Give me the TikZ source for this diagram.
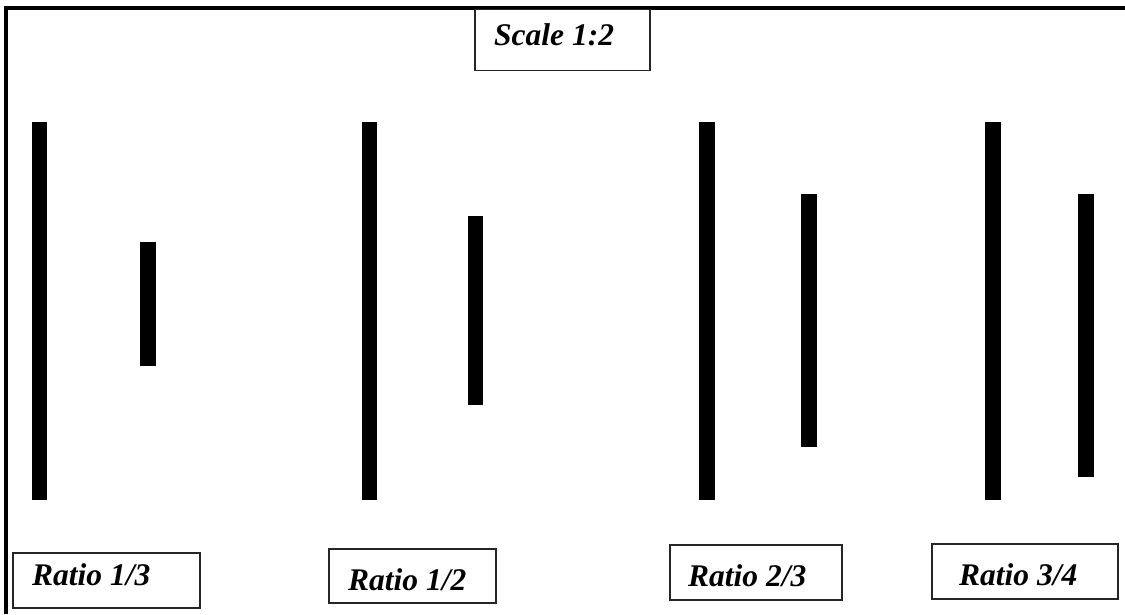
\documentclass[tikz,border=0pt]{standalone}
\usepackage{fontspec}
\setmainfont{Liberation Serif}
\begin{document}
\begin{tikzpicture}[x=1pt,y=-1pt,
  bar/.style={fill=black,draw=none},
  lbox/.style={draw=black!85,line width=1.3pt,rectangle,inner sep=0pt},
  lbl/.style={inner sep=0pt,anchor=base west,font=\fontsize{31.5}{34}\selectfont\bfseries\itshape}]
\useasboundingbox (0,0) rectangle (1125,614);
\draw[line width=3.6pt,line join=miter] (6,614) -- (6,8) -- (1125,8);
% bars
\fill[bar] (32,122) rectangle (47,500);
\fill[bar] (140,242) rectangle (156,366);
\fill[bar] (362,122) rectangle (377,500);
\fill[bar] (468,216) rectangle (483,405);
\fill[bar] (699,122) rectangle (715,500);
\fill[bar] (801,194) rectangle (817,447);
\fill[bar] (985,122) rectangle (1001,500);
\fill[bar] (1078,194) rectangle (1094,477);
% boxes
\node[lbox,minimum width=175pt,minimum height=61pt] (scale) at (562.5,40) {};
\node[lbox,minimum width=187pt,minimum height=55pt] (r1) at (106.5,580.5) {};
\node[lbox,minimum width=167pt,minimum height=54pt] (r2) at (412.5,576) {};
\node[lbox,minimum width=172pt,minimum height=55pt] (r3) at (756,572.5) {};
\node[lbox,minimum width=186pt,minimum height=55pt] (r4) at (1025,571.5) {};
% labels
\node[lbl] (tscale) at (494,45) {Scale 1:2};
\node[lbl] (t1) at (32,585) {Ratio 1/3};
\node[lbl] (t2) at (348,590) {Ratio 1/2};
\node[lbl] (t3) at (688,586) {Ratio 2/3};
\node[lbl] (t4) at (959,585) {Ratio 3/4};
\end{tikzpicture}
\end{document}
